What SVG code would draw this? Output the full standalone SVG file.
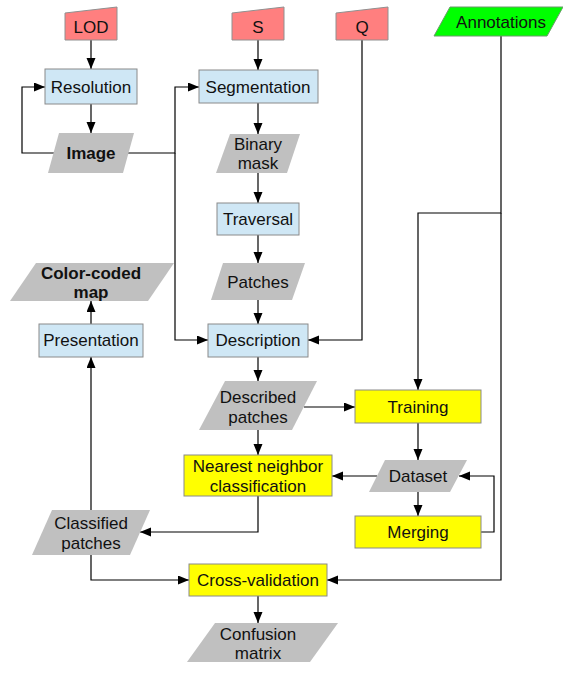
<svg xmlns="http://www.w3.org/2000/svg" width="563" height="684" viewBox="0 0 563 684">
<style>
text{font-family:"Liberation Sans",Arial,sans-serif;font-size:17px;fill:#111;text-anchor:middle}
.b{font-weight:bold}
.in{fill:#ff7f7f;stroke:#909090;stroke-width:1}
.data{fill:#c0c0c0;stroke:none}
.proc{fill:#cfe7f5;stroke:#8a8a8a;stroke-width:1}
.yel{fill:#ffff00;stroke:#8a8a8a;stroke-width:1}
.ann{fill:#00ff00;stroke:#6a9a6a;stroke-width:1}
.c{fill:none;stroke:#000;stroke-width:1.2}
</style>
<defs>
<marker id="ah" markerUnits="userSpaceOnUse" markerWidth="12" markerHeight="10" refX="11" refY="4.5" orient="auto">
<path d="M0,0 L11,4.5 L0,9 z" fill="#000"/>
</marker>
</defs>
<rect width="563" height="684" fill="#fff"/>

<g id="connectors" class="c" marker-end="url(#ah)">
<path d="M91,40 V69"/>
<path d="M91,104 V133"/>
<path d="M55,153 H22 V87 H45"/>
<path d="M127,153 H175 V87 H199"/>
<path d="M175,153 V340 H208"/>
<path d="M258,40 V70"/>
<path d="M258,103 V134"/>
<path d="M258,173 V203"/>
<path d="M258,235 V263"/>
<path d="M258,300 V324"/>
<path d="M362,40 V340 H308"/>
<path d="M501,36 V213 H418 V390"/>
<path d="M501,213 V580 H327"/>
<path d="M258,357 V381"/>
<path d="M304,407 H355"/>
<path d="M258,430 V455"/>
<path d="M418,423 V460"/>
<path d="M377,476 H332"/>
<path d="M418,492 V516"/>
<path d="M481,532 H494 V476 H459"/>
<path d="M258,496 V532 H140"/>
<path d="M91,510 V357"/>
<path d="M91,324 V301"/>
<path d="M91,555 V580 H189"/>
<path d="M258,596 V623"/>
</g>

<g id="lod"><path class="in" d="M65,13 L117,7 V40 H65 z"/><text x="91" y="33">LOD</text></g>
<g id="s"><path class="in" d="M232,13 L284,7 V40 H232 z"/><text x="258" y="33">S</text></g>
<g id="q"><path class="in" d="M336,13 L388,7 V40 H336 z"/><text x="362" y="33">Q</text></g>
<g id="annotations"><path class="ann" d="M450,7 H563 L547,36 H434 z"/><text x="501" y="28">Annotations</text></g>

<g id="resolution"><rect class="proc" x="45" y="69" width="92" height="35"/><text x="91" y="93">Resolution</text></g>
<g id="image"><path class="data" d="M59,133 H134 L123,173 H48 z"/><text class="b" x="91" y="159">Image</text></g>
<g id="segmentation"><rect class="proc" x="199" y="70" width="119" height="33"/><text x="258" y="93">Segmentation</text></g>
<g id="binary-mask"><path class="data" d="M230,134 H300 L287,173 H216 z"/><text x="258" y="150">Binary</text><text x="258" y="169">mask</text></g>
<g id="traversal"><rect class="proc" x="217" y="203" width="82" height="32"/><text x="258" y="225">Traversal</text></g>
<g id="patches"><path class="data" d="M223,263 H305 L292,300 H211 z"/><text x="258" y="288">Patches</text></g>
<g id="description"><rect class="proc" x="208" y="324" width="100" height="33"/><text x="258" y="346">Description</text></g>
<g id="color-coded-map"><path class="data" d="M36,263 H174 L148,301 H10 z"/><text class="b" x="91" y="279">Color-coded</text><text class="b" x="91" y="298">map</text></g>
<g id="presentation"><rect class="proc" x="39" y="324" width="104" height="33"/><text x="91" y="346">Presentation</text></g>
<g id="described-patches"><path class="data" d="M225,381 H317 L292,430 H199 z"/><text x="258" y="403">Described</text><text x="258" y="423">patches</text></g>
<g id="training"><rect class="yel" x="355" y="390" width="126" height="33"/><text x="418" y="413">Training</text></g>
<g id="nearest-neighbor"><rect class="yel" x="184" y="455" width="148" height="41"/><text x="258" y="472">Nearest neighbor</text><text x="258" y="492">classification</text></g>
<g id="dataset"><path class="data" d="M385,460 H467 L450,492 H369 z"/><text x="418" y="482">Dataset</text></g>
<g id="merging"><rect class="yel" x="355" y="516" width="126" height="32"/><text x="418" y="538">Merging</text></g>
<g id="classified-patches"><path class="data" d="M52,510 H150 L130,555 H32 z"/><text x="91" y="529">Classified</text><text x="91" y="549">patches</text></g>
<g id="cross-validation"><rect class="yel" x="189" y="564" width="138" height="32"/><text x="258" y="586">Cross-validation</text></g>
<g id="confusion-matrix"><path class="data" d="M215,623 H338 L310,662 H187 z"/><text x="258" y="640">Confusion</text><text x="258" y="659">matrix</text></g>
</svg>
